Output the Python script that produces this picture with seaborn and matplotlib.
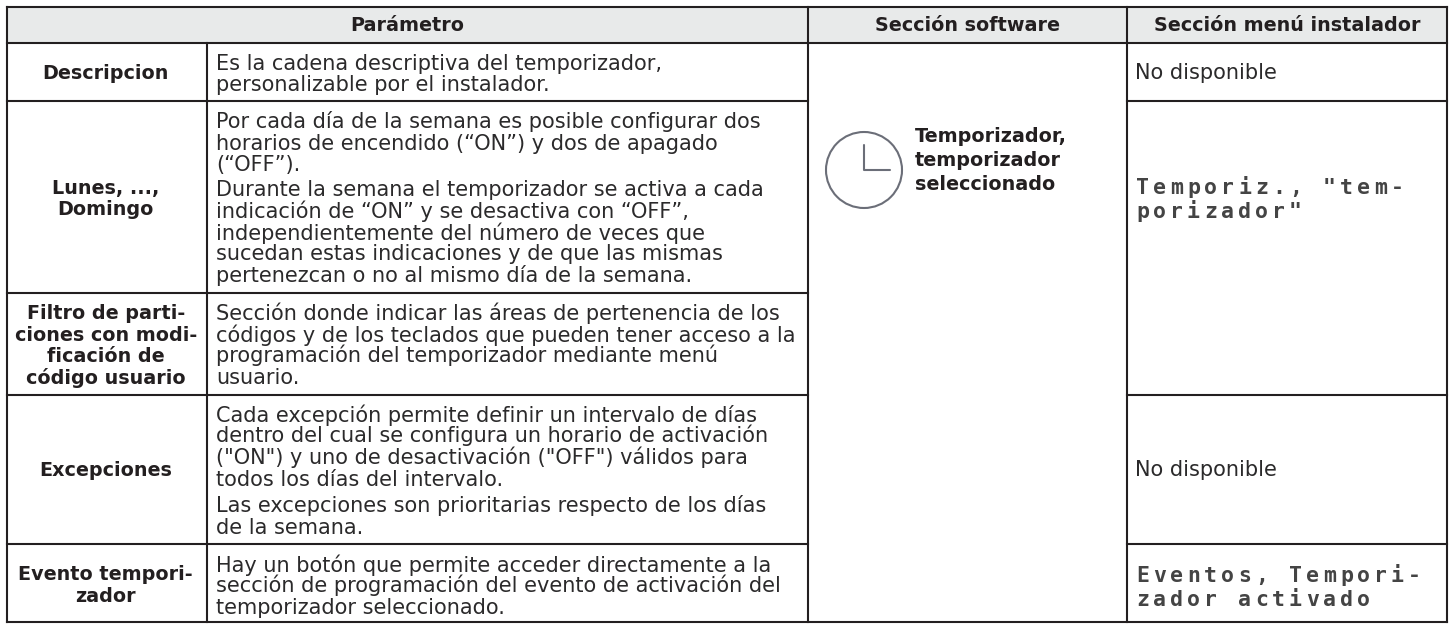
import matplotlib

matplotlib.use("Agg")

import matplotlib.pyplot as plt
import pandas as pd
import seaborn as sns
from matplotlib.patches import Circle, Rectangle

WIDTH, HEIGHT = 1449, 624
INK = "#231f20"
BODY_INK = "#2b2a2b"
HEADER_FILL = "#e8eaea"
CLOCK_INK = "#6b6e78"

# table text
HEADERS = ["Parámetro", "Sección software", "Sección menú instalador"]
PARAM_LINES = [
    ["Descripcion"],
    ["Lunes, ...,", "Domingo"],
    ["Filtro de parti-", "ciones con modi-", "ficación de", "código usuario"],
    ["Excepciones"],
    ["Evento tempori-", "zador"],
]
BODY_LINES = [
    ["Es la cadena descriptiva del temporizador,", "personalizable por el instalador."],
    [
        "Por cada día de la semana es posible configurar dos",
        "horarios de encendido (“ON”) y dos de apagado",
        "(“OFF”).",
        "Durante la semana el temporizador se activa a cada",
        "indicación de “ON” y se desactiva con “OFF”,",
        "independientemente del número de veces que",
        "sucedan estas indicaciones y de que las mismas",
        "pertenezcan o no al mismo día de la semana.",
    ],
    [
        "Sección donde indicar las áreas de pertenencia de los",
        "códigos y de los teclados que pueden tener acceso a la",
        "programación del temporizador mediante menú",
        "usuario.",
    ],
    [
        "Cada excepción permite definir un intervalo de días",
        "dentro del cual se configura un horario de activación",
        '("ON") y uno de desactivación ("OFF") válidos para',
        "todos los días del intervalo.",
        "Las excepciones son prioritarias respecto de los días",
        "de la semana.",
    ],
    [
        "Hay un botón que permite acceder directamente a la",
        "sección de programación del evento de activación del",
        "temporizador seleccionado.",
    ],
]
SOFTWARE_LINES = ["Temporizador,", "temporizador", "seleccionado"]
NOT_AVAILABLE = "No disponible"
MENU_LINES = [['Temporiz., "tem-', 'porizador"'], ["Eventos, Tempori-", "zador activado"]]

# layout, in reference pixels
COL_X = [6.5, 207, 808, 1126.5, 1447]
ROW_Y = [7, 43, 101, 293, 395, 544, 622]
PARAM_Y = [[79], [194, 215], [319, 341, 362, 384], [476], [580, 602]]
BODY_Y = [
    [70, 91],
    [127.5, 149.5, 170.5, 196.5, 218.5, 239.5, 260.5, 282.5],
    [319.5, 341.5, 362.5, 384.5],
    [421.5, 442.5, 463.5, 485.5, 512.5, 533.5],
    [571.5, 592.5, 613.5],
]
SOFTWARE_Y = [142, 166, 190]
NOT_AVAILABLE_Y = [79, 476]
MENU_Y = [[194, 218], [582, 606]]
MENU_ADVANCE = 17

BODY_SIZE = 15
BOLD_SIZE = 13.8


def rule_table():
    """Collect the table rules as one long frame, one unit per rule."""
    rules = [
        (COL_X[0], COL_X[-1], ROW_Y[0], ROW_Y[0]),
        (COL_X[0], COL_X[-1], ROW_Y[1], ROW_Y[1]),
        (COL_X[0], COL_X[-1], ROW_Y[-1], ROW_Y[-1]),
    ]
    # the software column is merged over all rows, the menu one over rows 2 and 3
    for y in ROW_Y[2:-1]:
        rules.append((COL_X[0], COL_X[2], y, y))
    for y in [ROW_Y[2], ROW_Y[4], ROW_Y[5]]:
        rules.append((COL_X[3], COL_X[4], y, y))
    for x in [COL_X[0], COL_X[2], COL_X[3], COL_X[4]]:
        rules.append((x, x, ROW_Y[0], ROW_Y[-1]))
    rules.append((COL_X[1], COL_X[1], ROW_Y[1], ROW_Y[-1]))

    rows = []
    for i, (x0, x1, y0, y1) in enumerate(rules):
        rows.append({"rule": i, "x": x0, "y": y0})
        rows.append({"rule": i, "x": x1, "y": y1})
    return pd.DataFrame(rows)


sns.set_theme(style="white")
plt.rcParams["font.family"] = ["DejaVu Sans"]

fig = plt.figure(figsize=(WIDTH / 100, HEIGHT / 100), dpi=100)
ax = fig.add_axes([0, 0, 1, 1])

ax.add_patch(
    Rectangle((COL_X[0], ROW_Y[0]), COL_X[-1] - COL_X[0], ROW_Y[1] - ROW_Y[0], color=HEADER_FILL, lw=0)
)

sns.lineplot(
    data=rule_table(),
    x="x",
    y="y",
    units="rule",
    estimator=None,
    sort=False,
    color=INK,
    linewidth=1.5,
    solid_capstyle="projecting",
    ax=ax,
)

# header
header_x = [(COL_X[0] + COL_X[2]) / 2, (COL_X[2] + COL_X[3]) / 2, (COL_X[3] + COL_X[4]) / 2]
for label, x in zip(HEADERS, header_x):
    ax.text(x, 31, label, ha="center", va="baseline", fontsize=BOLD_SIZE, fontweight="bold", color=INK)

# first two columns
param_x = (COL_X[0] + COL_X[1]) / 2 - 1
for lines, ys in zip(PARAM_LINES, PARAM_Y):
    for line, y in zip(lines, ys):
        ax.text(param_x, y, line, ha="center", va="baseline", fontsize=BOLD_SIZE, fontweight="bold", color=INK)
for lines, ys in zip(BODY_LINES, BODY_Y):
    for line, y in zip(lines, ys):
        ax.text(216, y, line, ha="left", va="baseline", fontsize=BODY_SIZE, color=BODY_INK)

# clock icon and software section
ax.add_patch(Circle((864, 170), 38, fill=False, edgecolor=CLOCK_INK, linewidth=1.5))
ax.plot([864, 864, 890], [145, 170, 170], color=CLOCK_INK, linewidth=1.5, solid_joinstyle="round")
for line, y in zip(SOFTWARE_LINES, SOFTWARE_Y):
    ax.text(915, y, line, ha="left", va="baseline", fontsize=BOLD_SIZE, fontweight="bold", color=INK)

# installer menu section, display font with wide letter pitch
for y in NOT_AVAILABLE_Y:
    ax.text(1135, y, NOT_AVAILABLE, ha="left", va="baseline", fontsize=BODY_SIZE, color=BODY_INK)
for lines, ys in zip(MENU_LINES, MENU_Y):
    for line, y in zip(lines, ys):
        for i, ch in enumerate(line):
            ax.text(
                1136 + i * MENU_ADVANCE,
                y,
                ch,
                ha="left",
                va="baseline",
                family="DejaVu Sans Mono",
                fontsize=15.5,
                fontweight="bold",
                color="#444444",
            )

ax.set_xlim(0, WIDTH)
ax.set_ylim(HEIGHT, 0)
ax.set_xlabel("")
ax.set_ylabel("")
ax.axis("off")

fig.savefig("out.png", dpi=100, facecolor="white")
plt.close(fig)
